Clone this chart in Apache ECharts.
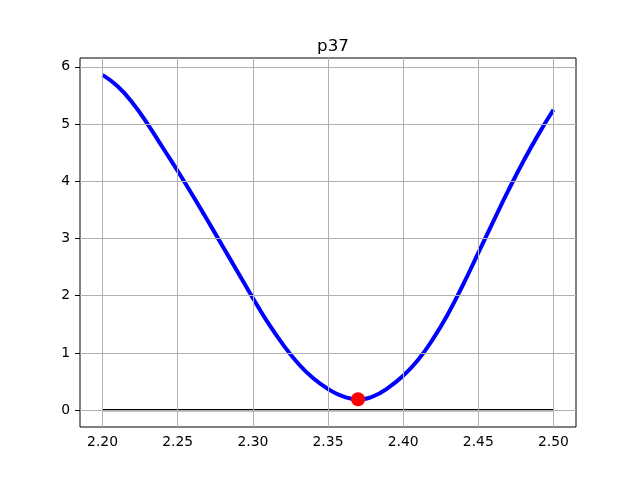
<!DOCTYPE html>
<html>
<head>
<meta charset="utf-8">
<script src="https://cdn.jsdelivr.net/npm/echarts@6/dist/echarts.min.js"></script>
<style>html,body{margin:0;padding:0;background:#fff;}#c{width:640px;height:480px;}</style>
</head>
<body>
<div id="c"></div>
<script>
const xs = [2.20, 2.21, 2.22, 2.23, 2.24, 2.25, 2.26, 2.27, 2.28, 2.29, 2.30,
            2.31, 2.32, 2.33, 2.34, 2.35, 2.36, 2.37, 2.38, 2.39, 2.40,
            2.41, 2.42, 2.43, 2.44, 2.45, 2.46, 2.47, 2.48, 2.49, 2.50];
const ys = [5.86, 5.66, 5.37, 5.00, 4.59, 4.18, 3.75, 3.31, 2.86, 2.41, 1.96,
            1.53, 1.15, 0.82, 0.56, 0.37, 0.24, 0.19, 0.24, 0.39, 0.60,
            0.88, 1.25, 1.69, 2.20, 2.75, 3.30, 3.84, 4.35, 4.82, 5.25];
const xTicks = [2.20, 2.25, 2.30, 2.35, 2.40, 2.45, 2.50];
const yTicks = [0, 1, 2, 3, 4, 5, 6];
const zeroX = [2.20, 2.50];
const zeroY = [0, 0];
const minPoint = [2.37, 0.19];
const title = 'p37';

const font = 'DejaVu Sans';
const chart = echarts.init(document.getElementById('c'), null, {renderer: 'canvas'});
chart.setOption({
  animation: false,
  backgroundColor: '#ffffff',
  title: {
    text: title, left: 328, top: 33, textAlign: 'center',
    textStyle: {fontFamily: font, fontSize: 16.7, fontWeight: 'normal', color: '#000'}
  },
  grid: {left: 80, right: 64, top: 58, bottom: 53, show: true, borderColor: '#000', borderWidth: 1, backgroundColor: 'transparent'},
  xAxis: {
    type: 'value', min: 2.185, max: 2.515,
    axisLine: {show: false},
    splitLine: {show: false},
    axisTick: {show: true, length: 5, inside: false, customValues: xTicks, lineStyle: {color: '#000', width: 1}},
    axisLabel: {customValues: xTicks, margin: 8, fontFamily: font, fontSize: 13.9, color: '#000',
      formatter: v => v.toFixed(2)}
  },
  yAxis: {
    type: 'value', min: -0.295, max: 6.155,
    axisLine: {show: false},
    splitLine: {show: false},
    axisTick: {show: true, length: 5, inside: false, customValues: yTicks, lineStyle: {color: '#000', width: 1}},
    axisLabel: {customValues: yTicks, margin: 10, fontFamily: font, fontSize: 13.9, color: '#000',
      formatter: v => String(Math.round(v))}
  },
  series: [
    {
      type: 'line', z: 1, data: [], silent: true,
      markLine: {
        silent: true, symbol: 'none', label: {show: false},
        lineStyle: {color: '#b0b0b0', width: 1, type: 'solid'},
        data: xTicks.map(v => ({xAxis: v})).concat(yTicks.map(v => ({yAxis: v})))
      }
    },
    {
      type: 'line', z: 2, showSymbol: false, silent: true,
      data: zeroX.map((x, i) => [x, zeroY[i]]),
      lineStyle: {color: '#000', width: 2.1}
    },
    {
      type: 'line', z: 3, showSymbol: false, smooth: 0.5, silent: true,
      data: xs.map((x, i) => [x, ys[i]]),
      lineStyle: {color: '#0000ff', width: 4, cap: 'butt'}
    },
    {
      type: 'scatter', z: 4, silent: true,
      data: [minPoint],
      symbol: 'circle', symbolSize: 14,
      itemStyle: {color: '#ff0000', opacity: 1}
    }
  ]
});
</script>
</body>
</html>
